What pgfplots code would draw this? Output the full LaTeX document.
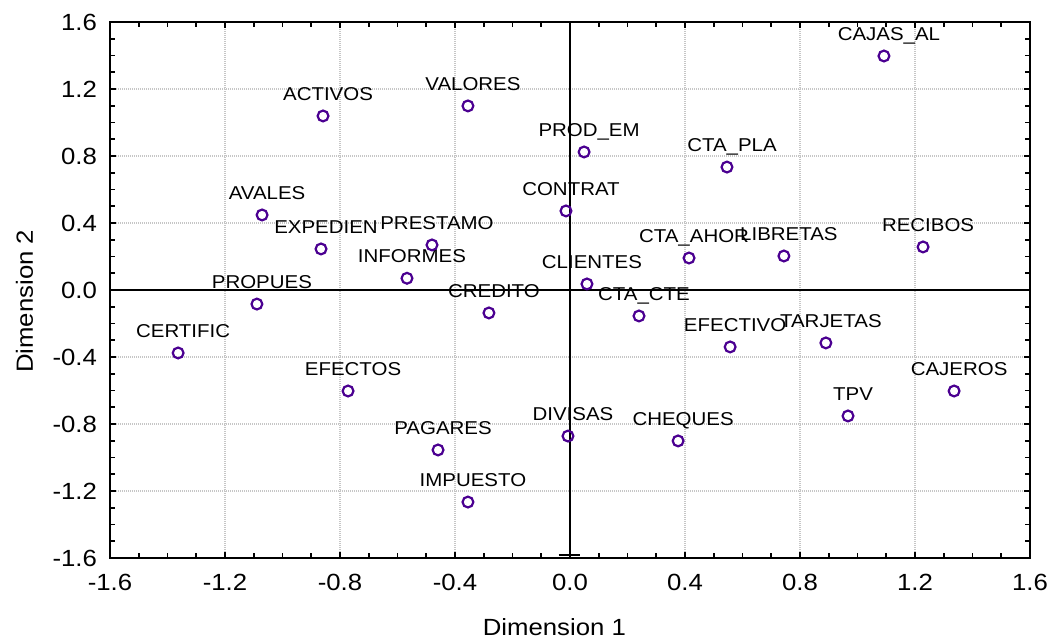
\documentclass[border=0pt]{standalone}
\usepackage{fontspec}
\setmainfont{Liberation Sans}[FakeStretch=1.1]
\usepackage{pgfplots}
\usepackage{pgfplotstable}
\pgfplotsset{compat=1.18}
\definecolor{mk}{RGB}{75,0,145}
\pgfplotstableread{
x y label
-1.363 -0.376 CERTIFIC
-1.089 -0.084 PROPUES
-1.071 0.448 AVALES
-0.866 0.245 EXPEDIEN
-0.859 1.039 ACTIVOS
-0.772 -0.603 EFECTOS
-0.567 0.070 INFORMES
-0.480 0.269 PRESTAMO
-0.459 -0.955 PAGARES
-0.355 1.099 VALORES
-0.355 -1.266 IMPUESTO
-0.282 -0.137 CREDITO
-0.014 0.472 CONTRAT
-0.007 -0.872 DIVISAS
0.049 0.824 PROD\_EM
0.059 0.036 CLIENTES
0.240 -0.155 CTA\_CTE
0.376 -0.901 CHEQUES
0.414 0.191 CTA\_AHOR
0.546 0.734 CTA\_PLA
0.557 -0.340 EFECTIVO
0.744 0.203 LIBRETAS
0.890 -0.316 TARJETAS
0.967 -0.752 TPV
1.092 1.397 CAJAS\_AL
1.228 0.257 RECIBOS
1.336 -0.603 CAJEROS
}\pts
\begin{document}
\begin{tikzpicture}
\path[use as bounding box] (-55pt,-41.5pt) rectangle (470pt,279pt);
\begin{axis}[
  scale only axis, width=460pt, height=268pt,
  xmin=-1.6, xmax=1.6, ymin=-1.6, ymax=1.6,
  xtick={-1.6,-1.2,...,1.61}, ytick={-1.6,-1.2,...,1.61},
  minor tick num=3,
  tick align=inside,
  major tick length=3pt, minor tick length=2.5pt,
  every tick/.style={black, line width=0.8pt},
  axis line style={black, line width=1.1pt},
  grid=major,
  major grid style={gray!45, line width=0.8pt, dash pattern=on 0.5pt off 0.5pt},
  /pgf/number format/assume math mode=true,
  /pgf/number format/fixed, /pgf/number format/fixed zerofill, /pgf/number format/precision=1,
  tick label style={font=\fontsize{11.7}{13}\selectfont},
  yticklabel style={xshift=-3pt},
  xticklabel style={yshift=-4.6pt},
  clip=false,
]
\addplot[black, line width=1.2pt] coordinates {(0,-1.6) (0,1.6)};
\addplot[black, line width=1.2pt] coordinates {(-1.6,0) (1.6,0)};
\addplot[black, line width=1.1pt] coordinates {(-0.04,-1.582) (0.035,-1.582)};
\addplot[only marks, mark=o, mark size=2.7pt, mk, mark options={line width=1.1pt, fill=white},
  point meta=explicit symbolic, nodes near coords,
  nodes near coords style={black, anchor=base, inner sep=0pt, xshift=2.5pt, yshift=7.7pt,
    font=\fontsize{9.3}{10}\selectfont}]
  table[x=x, y=y, meta=label] {\pts};
\node[anchor=base, font=\fontsize{11.7}{13}\selectfont] at (axis description cs:0.483,-0.1455) {Dimension 1};
\node[anchor=base, rotate=90, font=\fontsize{11.7}{13}\selectfont] at (axis description cs:-0.0837,0.479) {Dimension 2};
\end{axis}
\end{tikzpicture}
\end{document}
